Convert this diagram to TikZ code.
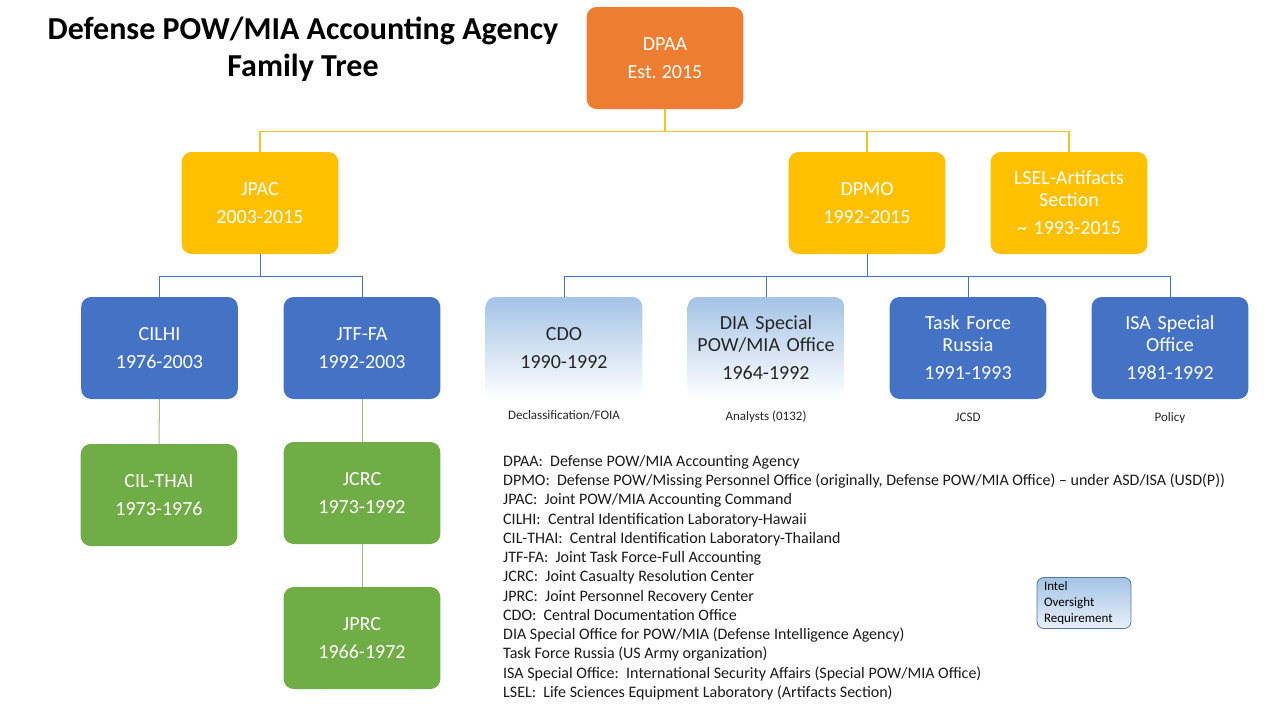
\documentclass[tikz,border=0pt]{standalone}
\usepackage{fontspec}
\setmainfont{Carlito}
\usepackage{xcolor}
\usetikzlibrary{positioning}

\definecolor{dpaaorange}{HTML}{ED7D31}
\definecolor{eragold}{HTML}{FFC000}
\definecolor{unitblue}{HTML}{4472C4}
\definecolor{rootgreen}{HTML}{70AD47}
\definecolor{paleblue}{HTML}{A4C3E6}
\definecolor{goldline}{HTML}{F5C12E}
\definecolor{greenline}{HTML}{98C07E}

\begin{document}
\begin{tikzpicture}[
  x=1pt, y=-1pt,
  org/.style={rectangle, rounded corners=10pt, minimum width=154pt, minimum height=102pt,
    text width=150pt, align=center, text=white, font=\fontsize{20}{22}\selectfont},
  orange/.style={org, fill=dpaaorange},
  gold/.style={org, fill=eragold},
  blue/.style={org, fill=unitblue},
  green/.style={org, fill=rootgreen},
  faded/.style={org, top color=paleblue, bottom color=white, text=black!85},
  role/.style={font=\fontsize{13}{15}\selectfont, text=black!85},
  ylink/.style={goldline, line width=1.2pt},
  blink/.style={unitblue, line width=1pt},
  glink/.style={greenline, line width=1pt}
]
\useasboundingbox (0,0) rectangle (1280,720);

% Title
\node[font=\fontsize{32}{37}\selectfont\bfseries, align=center] (title) at (303,49)
  {Defense POW/MIA Accounting Agency\\Family Tree};

% Top: current agency
\node[orange] (dpaa) at (665,58) {DPAA\\[6pt]Est.\hspace{0.25em}2015};

% Second row: predecessors
\node[gold] (jpac) at (260,203) {JPAC\\[6pt]2003-2015};
\node[gold] (dpmo) at (867,203) {DPMO\\[6pt]1992-2015};
\node[gold] (lsel) at (1069,203) {LSEL-Artifacts\\Section\\[6pt]\textasciitilde{} 1993-2015};

% Third row
\node[blue] (cilhi) at (159.5,348) {CILHI\\[6pt]1976-2003};
\node[blue] (jtffa) at (362,348) {JTF-FA\\[6pt]1992-2003};
\node[faded] (cdo) at (564,348) {CDO\\[6pt]1990-1992};
\node[faded] (dia) at (766,348) {DIA Special\\POW/MIA Office\\[6pt]1964-1992};
\node[blue] (tfr) at (968,348) {Task Force\\Russia\\[6pt]1991-1993};
\node[blue] (isa) at (1170,348) {ISA Special\\Office\\[6pt]1981-1992};

% Roles under the DPMO units
\node[role, below=8pt of cdo] (cdorole) {Declassification/FOIA};
\node[role, below=8pt of dia] (diarole) {Analysts (0132)};
\node[role, below=10pt of tfr] (tfrrole) {JCSD};
\node[role, below=10pt of isa] (isarole) {Policy};

% Roots
\node[green] (cilthai) at (159,495) {CIL-THAI\\[6pt]1973-1976};
\node[green] (jcrc) at (362,493) {JCRC\\[6pt]1973-1992};
\node[green] (jprc) at (362,638) {JPRC\\[6pt]1966-1972};

% Connectors
\draw[ylink] (dpaa.south) -- ++(0,22) -| (jpac.north);
\draw[ylink] (dpaa.south) -- ++(0,22) -| (dpmo.north);
\draw[ylink] (dpaa.south) -- ++(0,22) -| (lsel.north);
\draw[blink] (jpac.south) -- ++(0,22) -| (cilhi.north);
\draw[blink] (jpac.south) -- ++(0,22) -| (jtffa.north);
\foreach \u in {cdo,dia,tfr,isa}
  \draw[blink] (dpmo.south) -- ++(0,22) -| (\u.north);
\draw[glink] (cilhi) -- (cilthai);
\draw[glink] (jtffa) -- (jcrc);
\draw[glink] (jcrc) -- (jprc);

% Glossary
\node[anchor=north west, align=left, inner sep=0pt, text=black!90,
  font=\fontsize{16}{19.25}\selectfont] (glossary) at (503,455) {%
DPAA:\ \ Defense POW/MIA Accounting Agency\\
DPMO:\ \ Defense POW/Missing Personnel Office (originally, Defense POW/MIA Office) -- under ASD/ISA (USD(P))\\
JPAC:\ \ Joint POW/MIA Accounting Command\\
CILHI:\ \ Central Identification Laboratory-Hawaii\\
CIL-THAI:\ \ Central Identification Laboratory-Thailand\\
JTF-FA:\ \ Joint Task Force-Full Accounting\\
JCRC:\ \ Joint Casualty Resolution Center\\
JPRC:\ \ Joint Personnel Recovery Center\\
CDO:\ \ Central Documentation Office\\
DIA Special Office for POW/MIA (Defense Intelligence Agency)\\
Task Force Russia (US Army organization)\\
ISA Special Office:\ \ International Security Affairs (Special POW/MIA Office)\\
LSEL:\ \ Life Sciences Equipment Laboratory (Artifacts Section)};

% Key
\node[rectangle, rounded corners=7pt, draw=unitblue!70!gray, line width=0.8pt,
  top color=paleblue, bottom color=paleblue!25, minimum width=94pt, minimum height=48pt,
  text width=80pt, align=left, inner xsep=7pt, inner ysep=4pt, font=\fontsize{13}{16}\selectfont] (intel)
  at (1084,603) {Intel\\Oversight\\Requirement};
\end{tikzpicture}
\end{document}
